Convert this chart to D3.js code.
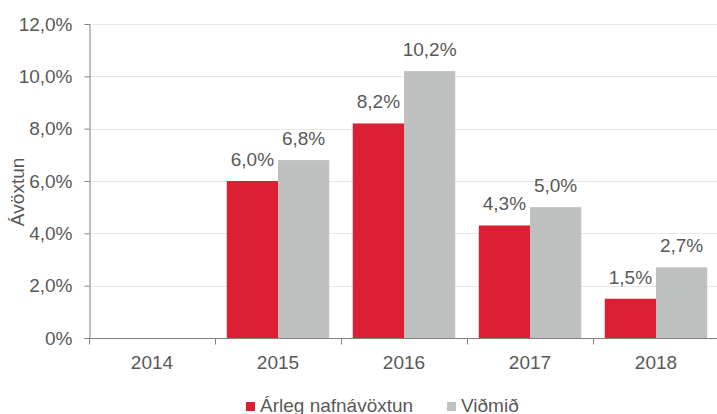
<!DOCTYPE html>
<html lang="is">
<head>
<meta charset="UTF-8">
<title>Ávöxtun</title>
<style>
  body { margin: 0; background: #fff; }
  text { font-family: "Liberation Sans", Arial, sans-serif; fill: #595959; }
</style>
<script src="https://cdn.jsdelivr.net/npm/d3@7"></script>
</head>
<body>
<div id="chart"></div>
<script>
    // data
    var years = ['2014', '2015', '2016', '2017', '2018'];
    var arleg = [null, 6.0, 8.2, 4.3, 1.5];
    var vidmid = [null, 6.8, 10.2, 5.0, 2.7];
    var yTicks = [0, 2, 4, 6, 8, 10, 12];
    var seriesNames = ['Árleg nafnávöxtun', 'Viðmið'];
    var colors = ['#DC1F35', '#BFC0C0'];

    var width = 717;
    var height = 414;
    var margin = {top: 24, right: -2, bottom: 76, left: 89};
    var fontSize = '19px';

    var svg = d3.select('#chart')
                .append('svg')
                .attr('width', width)
                .attr('height', height);

    var x = d3.scaleBand()
              .domain(years)
              .range([margin.left, width - margin.right])
              .paddingInner(0)
              .paddingOuter(0);

    var x1 = d3.scaleBand()
               .domain([0, 1])
               .range([0, x.bandwidth()])
               .paddingOuter(0.23)
               .paddingInner(0);

    var y = d3.scaleLinear()
              .domain([0, 12])
              .range([height - margin.bottom, margin.top]);

    function fmt(v) {
        if (v === 0) return '0%';
        return v.toFixed(1).replace('.', ',') + '%';
    }

    // gridlines
    svg.append('g')
       .selectAll('line')
       .data(yTicks.filter(function(d) { return d > 0; }))
       .join('line')
       .attr('x1', margin.left)
       .attr('x2', width)
       .attr('y1', function(d) { return Math.round(y(d)) + 0.5; })
       .attr('y2', function(d) { return Math.round(y(d)) + 0.5; })
       .attr('stroke', '#E8E8E8')
       .attr('stroke-width', 1);

    // bars
    var rows = years.map(function(yr, i) {
        return {year: yr, values: [arleg[i], vidmid[i]]};
    });

    var groups = svg.append('g')
                    .selectAll('g')
                    .data(rows)
                    .join('g')
                    .attr('transform', function(d) { return 'translate(' + x(d.year) + ',0)'; });

    var cells = groups.selectAll('g')
                      .data(function(d) {
                          return d.values.map(function(v, k) { return {k: k, v: v}; })
                                         .filter(function(c) { return c.v !== null; });
                      })
                      .join('g');

    cells.append('rect')
         .attr('x', function(d) { return x1(d.k); })
         .attr('width', x1.bandwidth())
         .attr('y', function(d) { return y(d.v); })
         .attr('height', function(d) { return y(0) - y(d.v); })
         .attr('fill', function(d) { return colors[d.k]; });

    cells.append('text')
         .attr('x', function(d) { return x1(d.k) + x1.bandwidth() / 2; })
         .attr('y', function(d) { return y(d.v) - 15; })
         .attr('text-anchor', 'middle')
         .style('font-size', fontSize)
         .text(function(d) { return fmt(d.v); });

    // y axis
    var yAxis = svg.append('g')
                   .attr('transform', 'translate(' + (margin.left + 0.5) + ',0)')
                   .call(d3.axisLeft(y).tickValues(yTicks).tickFormat(fmt).tickSizeOuter(0).tickSize(5).tickPadding(12));
    yAxis.selectAll('line, path').attr('stroke', '#808080');
    yAxis.selectAll('text').style('font-size', fontSize).style('fill', '#595959').style('font-family', '"Liberation Sans", Arial, sans-serif');

    // x axis
    var xAxis = svg.append('g')
                   .attr('transform', 'translate(0,' + (Math.round(y(0)) + 0.5) + ')');
    xAxis.append('line')
         .attr('x1', margin.left)
         .attr('x2', width)
         .attr('stroke', '#808080');
    xAxis.selectAll('.tk')
         .data(years.concat(['end']))
         .join('line')
         .attr('class', 'tk')
         .attr('x1', function(d, i) { return Math.round(margin.left + i * x.bandwidth()) + 0.5; })
         .attr('x2', function(d, i) { return Math.round(margin.left + i * x.bandwidth()) + 0.5; })
         .attr('y1', 0)
         .attr('y2', 6)
         .attr('stroke', '#808080');
    xAxis.selectAll('text')
         .data(years)
         .join('text')
         .attr('x', function(d) { return x(d) + x.bandwidth() / 2; })
         .attr('y', 30)
         .attr('text-anchor', 'middle')
         .style('font-size', fontSize)
         .text(function(d) { return d; });

    // y axis title
    svg.append('text')
       .attr('transform', 'translate(24,192) rotate(-90)')
       .attr('text-anchor', 'middle')
       .style('font-size', fontSize)
       .text('Ávöxtun');

    // legend
    var legend = svg.append('g').attr('transform', 'translate(246,402)');
    var legX = [0, 201];
    seriesNames.forEach(function(name, i) {
        legend.append('rect')
              .attr('x', legX[i])
              .attr('y', 0)
              .attr('width', 9)
              .attr('height', 9)
              .attr('fill', colors[i]);
        legend.append('text')
              .attr('x', legX[i] + 14)
              .attr('y', 10)
              .style('font-size', fontSize)
              .text(name);
    });
</script>
</body>
</html>
